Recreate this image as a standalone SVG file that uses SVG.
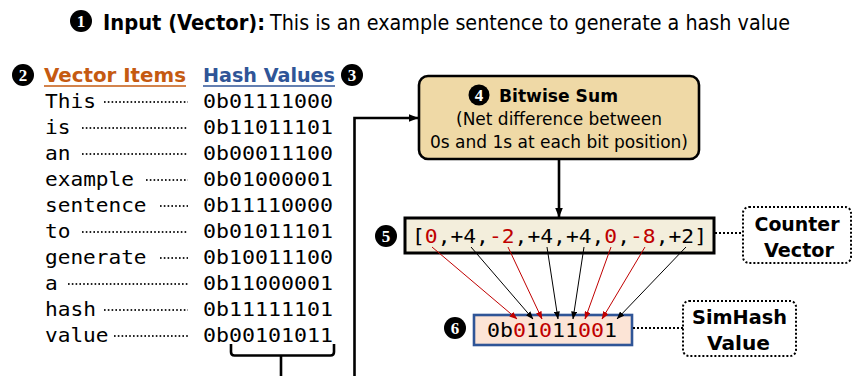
<svg xmlns="http://www.w3.org/2000/svg" width="853" height="376" viewBox="0 0 853 376">
  <style>
    .sans { font-family: "DejaVu Sans", "Liberation Sans", sans-serif; }
    .bold { font-weight: bold; }
    .mono { font-family: "DejaVu Sans Mono", "Liberation Mono", monospace; font-size: 20px; }
    .num-bg { fill: #000; }
    .num { font-family: "Liberation Serif", serif; font-weight: bold; font-size: 17px; fill: #fff; text-anchor: middle; }
    .red { fill: #C00000; }
    .leader { stroke: #222; stroke-width: 2; stroke-dasharray: 1.6 2.2; fill: none; }
    .dotlink { stroke: #000; stroke-width: 2; stroke-dasharray: 2 2; fill: none; }
    .thick { stroke: #000; stroke-width: 2.6; fill: none; }
    .thin-k { stroke: #000; stroke-width: 1; fill: none; }
    .thin-r { stroke: #C00000; stroke-width: 1; fill: none; }
  </style>
  <defs>
    <marker id="headBig" viewBox="0 0 10 8" refX="9.5" refY="4" markerWidth="10" markerHeight="8" markerUnits="userSpaceOnUse" orient="auto">
      <path d="M0,0 L10,4 L0,8 Z" fill="#000"/>
    </marker>
    <marker id="headK" viewBox="0 0 8 6" refX="7.5" refY="3" markerWidth="8" markerHeight="6" markerUnits="userSpaceOnUse" orient="auto">
      <path d="M0,0 L8,3 L0,6 Z" fill="#000"/>
    </marker>
    <marker id="headR" viewBox="0 0 8 6" refX="7.5" refY="3" markerWidth="8" markerHeight="6" markerUnits="userSpaceOnUse" orient="auto">
      <path d="M0,0 L8,3 L0,6 Z" fill="#C00000"/>
    </marker>
  </defs>

  <rect width="853" height="376" fill="#fff"/>

  <!-- 1: input sentence -->
  <g id="input">
    <circle class="num-bg" cx="81" cy="21" r="11"/>
    <text class="num" x="81" y="27">1</text>
    <text class="sans bold" x="103" y="30" font-size="21" textLength="162" lengthAdjust="spacingAndGlyphs">Input (Vector):</text>
    <text class="sans" x="270" y="30" font-size="21" textLength="520" lengthAdjust="spacingAndGlyphs">This is an example sentence to generate a hash value</text>
  </g>

  <!-- 2 / 3: vector items and their hash values -->
  <g id="table-header">
    <circle class="num-bg" cx="23" cy="75" r="11"/>
    <text class="num" x="23" y="81">2</text>
    <text class="sans bold" x="44" y="82" font-size="19" fill="#C55A11" textLength="142" lengthAdjust="spacingAndGlyphs">Vector Items</text>
    <line x1="44" y1="86" x2="186" y2="86" stroke="#C55A11" stroke-width="1.6"/>
    <text class="sans bold" x="203" y="82" font-size="19" fill="#2F5597" textLength="132" lengthAdjust="spacingAndGlyphs">Hash Values</text>
    <line x1="203" y1="86" x2="335" y2="86" stroke="#2F5597" stroke-width="1.6"/>
    <circle class="num-bg" cx="352" cy="75" r="11"/>
    <text class="num" x="352" y="81">3</text>
  </g>

  <g id="vector-items" class="mono">
    <text x="45" y="108" textLength="51" lengthAdjust="spacingAndGlyphs">This</text>
    <text x="45" y="134" textLength="25.5" lengthAdjust="spacingAndGlyphs">is</text>
    <text x="45" y="160" textLength="25.5" lengthAdjust="spacingAndGlyphs">an</text>
    <text x="45" y="186" textLength="89" lengthAdjust="spacingAndGlyphs">example</text>
    <text x="45" y="212" textLength="101.5" lengthAdjust="spacingAndGlyphs">sentence</text>
    <text x="45" y="238" textLength="25.5" lengthAdjust="spacingAndGlyphs">to</text>
    <text x="45" y="264" textLength="101.5" lengthAdjust="spacingAndGlyphs">generate</text>
    <text x="45" y="290" textLength="12.7" lengthAdjust="spacingAndGlyphs">a</text>
    <text x="45" y="316" textLength="51" lengthAdjust="spacingAndGlyphs">hash</text>
    <text x="45" y="342" textLength="63.5" lengthAdjust="spacingAndGlyphs">value</text>
  </g>

  <g id="leaders">
    <line class="leader" x1="104" y1="102" x2="188" y2="102"/>
    <line class="leader" x1="82" y1="128" x2="188" y2="128"/>
    <line class="leader" x1="82" y1="154" x2="188" y2="154"/>
    <line class="leader" x1="146" y1="180" x2="188" y2="180"/>
    <line class="leader" x1="160" y1="206" x2="188" y2="206"/>
    <line class="leader" x1="82" y1="232" x2="188" y2="232"/>
    <line class="leader" x1="160" y1="258" x2="188" y2="258"/>
    <line class="leader" x1="68" y1="284" x2="188" y2="284"/>
    <line class="leader" x1="104" y1="310" x2="188" y2="310"/>
    <line class="leader" x1="114" y1="336" x2="188" y2="336"/>
  </g>

  <g id="hash-values" class="mono">
    <text x="203" y="108" textLength="130" lengthAdjust="spacingAndGlyphs">0b01111000</text>
    <text x="203" y="134" textLength="130" lengthAdjust="spacingAndGlyphs">0b11011101</text>
    <text x="203" y="160" textLength="130" lengthAdjust="spacingAndGlyphs">0b00011100</text>
    <text x="203" y="186" textLength="130" lengthAdjust="spacingAndGlyphs">0b01000001</text>
    <text x="203" y="212" textLength="130" lengthAdjust="spacingAndGlyphs">0b11110000</text>
    <text x="203" y="238" textLength="130" lengthAdjust="spacingAndGlyphs">0b01011101</text>
    <text x="203" y="264" textLength="130" lengthAdjust="spacingAndGlyphs">0b10011100</text>
    <text x="203" y="290" textLength="130" lengthAdjust="spacingAndGlyphs">0b11000001</text>
    <text x="203" y="316" textLength="130" lengthAdjust="spacingAndGlyphs">0b11111101</text>
    <text x="203" y="342" textLength="130" lengthAdjust="spacingAndGlyphs">0b00101011</text>
  </g>

  <!-- 4: bitwise sum -->
  <g id="bitwise-sum">
    <rect x="419" y="76" width="280" height="83" rx="9" fill="#EFD9A6" stroke="#000" stroke-width="2.6"/>
    <circle class="num-bg" cx="479" cy="95" r="10.5"/>
    <text class="num" x="479" y="101">4</text>
    <text class="sans bold" x="499" y="102" font-size="17" textLength="119" lengthAdjust="spacingAndGlyphs">Bitwise Sum</text>
    <text class="sans" x="559" y="125" font-size="17.5" text-anchor="middle" textLength="206" lengthAdjust="spacingAndGlyphs">(Net difference between</text>
    <text class="sans" x="559" y="148" font-size="17.5" text-anchor="middle" textLength="258" lengthAdjust="spacingAndGlyphs">0s and 1s at each bit position)</text>
  </g>

  <!-- 5: counter vector -->
  <g id="counter-vector">
    <rect x="405" y="218" width="309" height="35" fill="#F3EEDC" stroke="#000" stroke-width="3"/>
    <circle class="num-bg" cx="386" cy="236" r="11"/>
    <text class="num" x="386" y="242">5</text>
    <text class="mono" x="412" y="243" textLength="295" lengthAdjust="spacingAndGlyphs">[<tspan class="red">0</tspan>,+4,<tspan class="red">-2</tspan>,+4,+4,<tspan class="red">0</tspan>,<tspan class="red">-8</tspan>,+2]</text>
  </g>

  <g id="counter-vector-label">
    <rect x="743" y="207" width="108" height="56" rx="6" fill="#fff" stroke="#000" stroke-width="2" stroke-dasharray="2 2"/>
    <text class="sans bold" x="797" y="231" font-size="19" text-anchor="middle" textLength="85" lengthAdjust="spacingAndGlyphs">Counter</text>
    <text class="sans bold" x="799" y="257" font-size="19" text-anchor="middle" textLength="70" lengthAdjust="spacingAndGlyphs">Vector</text>
  </g>

  <!-- 6: simhash value -->
  <g id="simhash">
    <rect x="474" y="315" width="158" height="30" fill="#FCE4D6" stroke="#2F5597" stroke-width="2.6"/>
    <circle class="num-bg" cx="455" cy="328" r="11"/>
    <text class="num" x="455" y="334">6</text>
    <text class="mono" x="487" y="337" textLength="130" lengthAdjust="spacingAndGlyphs">0b<tspan class="red">0</tspan>1<tspan class="red">0</tspan>11<tspan class="red">00</tspan>1</text>
  </g>

  <g id="simhash-label">
    <rect x="683" y="301" width="113" height="55" rx="6" fill="#fff" stroke="#000" stroke-width="2" stroke-dasharray="2 2"/>
    <text class="sans bold" x="739.5" y="324" font-size="19" text-anchor="middle" textLength="95" lengthAdjust="spacingAndGlyphs">SimHash</text>
    <text class="sans bold" x="738.5" y="350" font-size="19" text-anchor="middle" textLength="63" lengthAdjust="spacingAndGlyphs">Value</text>
  </g>

  <!-- connectors -->
  <g id="connectors">
    <path class="thick" d="M354.5,380 V118 H418" marker-end="url(#headBig)"/>
    <path class="thick" d="M231,344 V352 Q231,355.5 234.5,355.5 H330.5 Q334,355.5 334,352 V344"/>
    <line class="thick" x1="281" y1="355.5" x2="281" y2="380"/>
    <line class="thick" x1="559" y1="159" x2="559" y2="217" marker-end="url(#headBig)"/>

    <line class="dotlink" x1="715" y1="233" x2="743" y2="233"/>
    <line class="dotlink" x1="633" y1="328" x2="683" y2="328"/>

    <line class="thin-r" x1="432" y1="247" x2="517" y2="319" marker-end="url(#headR)"/>
    <line class="thin-k" x1="471" y1="247" x2="533" y2="319" marker-end="url(#headK)"/>
    <line class="thin-r" x1="508" y1="247" x2="542" y2="319" marker-end="url(#headR)"/>
    <line class="thin-k" x1="547" y1="247" x2="558" y2="319" marker-end="url(#headK)"/>
    <line class="thin-k" x1="584" y1="247" x2="573" y2="319" marker-end="url(#headK)"/>
    <line class="thin-r" x1="611" y1="247" x2="585" y2="319" marker-end="url(#headR)"/>
    <line class="thin-r" x1="645" y1="247" x2="602" y2="319" marker-end="url(#headR)"/>
    <line class="thin-k" x1="686" y1="247" x2="617" y2="319" marker-end="url(#headK)"/>
  </g>
</svg>
